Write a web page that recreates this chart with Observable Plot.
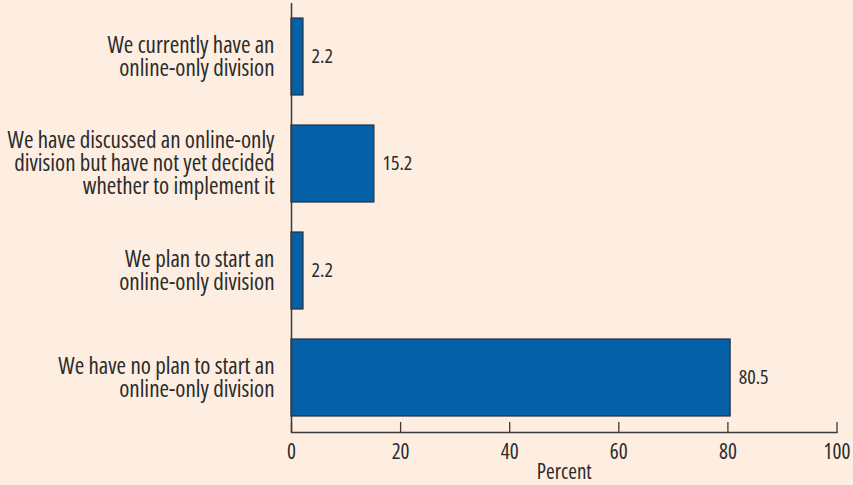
<!DOCTYPE html>
<html>
<head>
<meta charset="utf-8">
<script src="https://cdn.jsdelivr.net/npm/d3@7"></script>
<script src="https://cdn.jsdelivr.net/npm/@observablehq/plot@0.6"></script>
<style>
  html, body { margin: 0; padding: 0; background: #fdeee1; }
  #chart { width: 853px; height: 485px; }
  #chart svg text { font-stretch: 75%; }
</style>
</head>
<body>
<div id="chart"></div>
<script>
const categories = [
  "We currently have an\nonline-only division",
  "We have discussed an online-only\ndivision but have not yet decided\nwhether to implement it",
  "We plan to start an\nonline-only division",
  "We have no plan to start an\nonline-only division"
];
const values = [2.2, 15.2, 2.2, 80.5];
const xTicks = [0, 20, 40, 60, 80, 100];
const xLabel = "Percent";

const data = categories.map((c, i) => ({category: c, value: values[i]}));

const font = '"Open Sans", sans-serif';
const ink = "#2b2b2b";

const chart = Plot.plot({
  width: 853,
  height: 485,
  marginTop: 3,
  marginBottom: 53,
  marginLeft: 291,
  marginRight: 16.5,
  style: {background: "#fdeee1", fontFamily: font, fontSize: "20px", color: ink},
  x: {domain: [0, 100], ticks: xTicks, label: null},
  y: {domain: categories, paddingInner: 0.276, paddingOuter: 0.13, label: null},
  marks: [
    Plot.barX(data, {x: "value", y: "category", fill: "#0561a7", stroke: "#263040", strokeWidth: 1.2}),
    Plot.text(data, {x: "value", y: "category", text: d => d.value.toFixed(1), textAnchor: "start", dx: 8, fill: ink, fontSize: 20}),
    Plot.tickX(xTicks, {x: d => d, insetTop: 419, stroke: "#3a3a3a", strokeWidth: 1.3}),
    Plot.ruleX([0], {stroke: "#3a3a3a", strokeWidth: 1.5}),
    Plot.frame({anchor: "bottom", stroke: "#3a3a3a", strokeWidth: 1.5}),
    Plot.axisX({ticks: xTicks, tickSize: 0, tickPadding: 12, fontSize: 21, fill: ink, label: null}),
    Plot.axisY({tickSize: 0, tickPadding: 17, fontSize: 23, lineHeight: 1.0, fill: ink, label: null}),
    Plot.text([xLabel], {frameAnchor: "bottom", dy: 46, fontSize: 21, fill: ink})
  ]
});
document.getElementById("chart").appendChild(chart);
</script>
</body>
</html>
